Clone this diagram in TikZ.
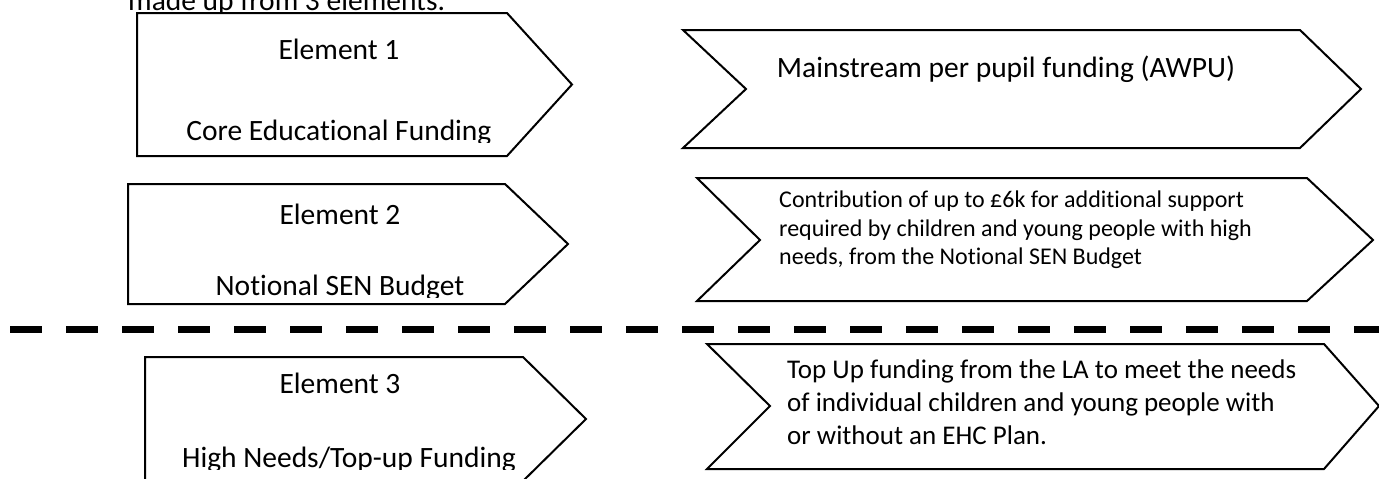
\documentclass[tikz,border=0pt]{standalone}
\usepackage{fontspec}
\setmainfont[Ligatures=NoCommon]{Carlito}
\begin{document}
\begin{tikzpicture}[x=1pt,y=-1pt,
  chev/.style={draw=black,line width=2pt,fill=white,line join=miter},
  big/.style={font=\fontsize{29.5}{34}\selectfont,inner sep=0pt,anchor=base},
  bigl/.style={font=\fontsize{29.5}{34}\selectfont,inner sep=0pt,anchor=base west},
  smallr/.style={font=\fontsize{24}{29}\selectfont,inner sep=0pt,anchor=base west},
  midr/.style={font=\fontsize{27}{33}\selectfont,inner sep=0pt,anchor=base west},
  sep/.style={line width=7pt,dash pattern=on 32pt off 24pt}]
\useasboundingbox (0,0) rectangle (1379,479);
\clip (0,0) rectangle (1379,479);
% top text (cut off)
\node[bigl] (intro) at (128,10) {made up from 3 elements.};
% Element boxes (left)
\draw[chev] (137,13) -- (507,13) -- (572,84.5) -- (507,156) -- (137,156) -- cycle;
\draw[chev] (128,184) -- (505,184) -- (568,244) -- (505,304) -- (128,304) -- cycle;
\draw[chev] (145,357) -- (523,357) -- (586,419) -- (523,481) -- (145,481) -- cycle;
% right chevrons
\draw[chev] (683,30) -- (1300,30) -- (1361,89) -- (1300,148) -- (683,148) -- (746,89) -- cycle;
\draw[chev] (697,178) -- (1307,178) -- (1373,240) -- (1307,301) -- (697,301) -- (760,240) -- cycle;
\draw[chev] (707,344) -- (1324,344) -- (1379,406) -- (1324,469) -- (707,469) -- (770,406) -- cycle;
% separator
\coordinate (sepL) at (10,329);
\coordinate (sepR) at (1400,329);
\draw[sep] (sepL) -- (sepR);
% left texts
\node[big] (e1) at (339,59) {Element 1};
\begin{scope}
\clip (137,0) rectangle (572,142);
\node[big] (e1b) at (339,140) {Core Educational Funding};
\end{scope}
\node[big] (e2) at (340,224) {Element 2};
\begin{scope}
\clip (128,184) rectangle (568,297);
\node[big] (e2b) at (340,295) {Notional SEN Budget};
\end{scope}
\node[big] (e3) at (340,393) {Element 3};
\begin{scope}
\clip (145,357) rectangle (586,469);
\node[big] (e3b) at (349,467) {High Needs/Top-up Funding};
\end{scope}
% right texts
\node[big] (r1) at (1006,77) {Mainstream per pupil funding (AWPU)};
\node[smallr] (r2a) at (779,207) {Contribution of up to £6k for additional support};
\node[smallr] (r2b) at (779,236) {required by children and young people with high};
\node[smallr] (r2c) at (779,264) {needs, from the Notional SEN Budget};
\node[midr] (r3a) at (787,378) {Top Up funding from the LA to meet the needs};
\node[midr] (r3b) at (787,411) {of individual children and young people with};
\node[midr] (r3c) at (787,444) {or without an EHC Plan.};
\end{tikzpicture}
\end{document}
